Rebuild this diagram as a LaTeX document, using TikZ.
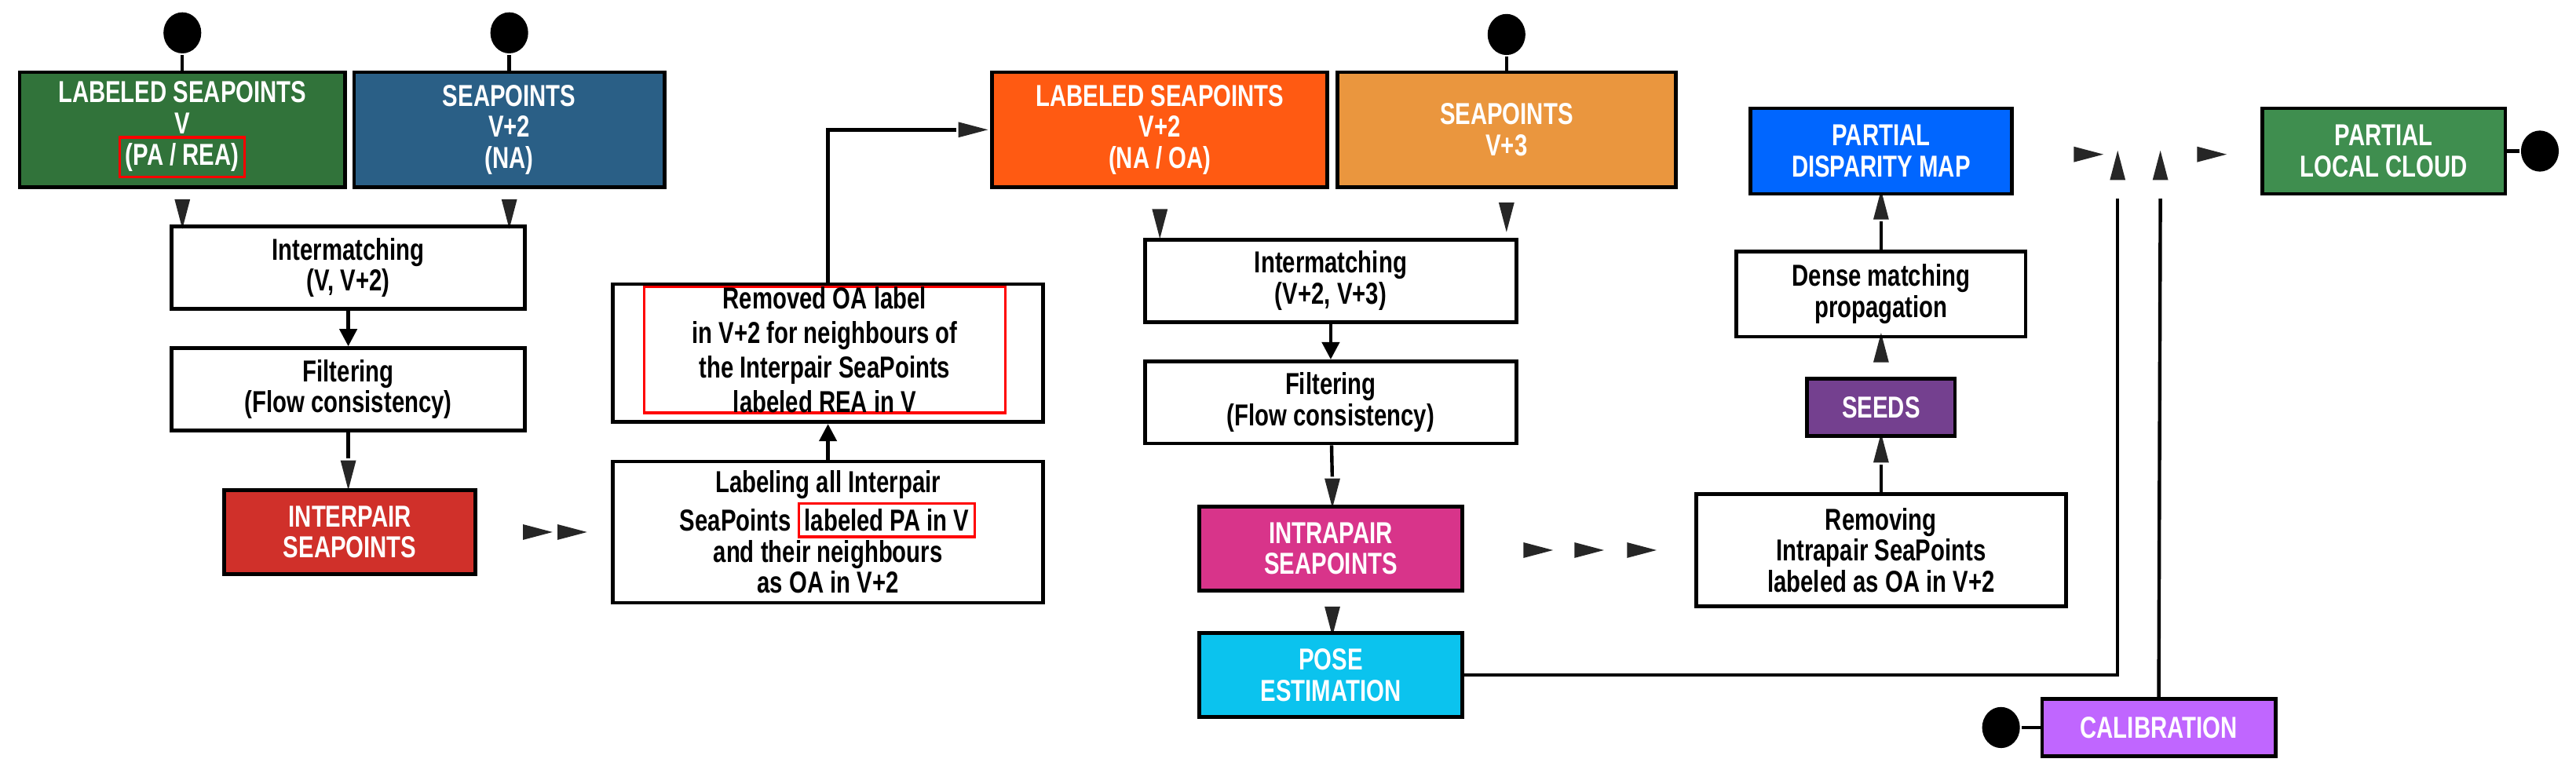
\documentclass[tikz,border=0pt]{standalone}
\usepackage{fontspec}
\setmainfont{Liberation Sans}[FakeStretch=0.76]
\usetikzlibrary{shapes.geometric,arrows.meta}
\tikzset{
  box/.style={rectangle,draw=black,line width=1.3pt,align=center,font=\bfseries\fontsize{10.5}{10.8}\selectfont,inner sep=1pt},
  cbox/.style={box,text=white,fill=#1},
  dot/.style={ellipse,fill=black,inner sep=0pt,minimum width=4.6mm,minimum height=5mm},
  tri/.style={isosceles triangle,isosceles triangle stretches,fill=black!85,inner sep=0pt,minimum width=1.9mm,minimum height=3.6mm,shape border rotate=#1},
  tri/.default=-90,
  hl/.style={rectangle,draw=red,line width=0.9pt,inner sep=0pt}
}
\definecolor{cgreen}{HTML}{31733A}
\definecolor{cblue}{HTML}{2A5F86}
\definecolor{cred}{HTML}{D0302A}
\definecolor{corange}{HTML}{FF5A12}
\definecolor{clorange}{HTML}{EA963E}
\definecolor{cmagenta}{HTML}{D8348A}
\definecolor{ccyan}{HTML}{0BC3EE}
\definecolor{cpurple}{HTML}{74408F}
\definecolor{cviolet}{HTML}{C066FF}
\definecolor{cdblue}{HTML}{0066FF}
\definecolor{clgreen}{HTML}{3F8E4F}
\newcommand{\redbox}[2]{{\setlength{\fboxsep}{1.5pt}\setlength{\fboxrule}{0.9pt}\fcolorbox{red}{#1}{#2}}}
\begin{document}
\begin{tikzpicture}[x=0.2mm,y=-0.2mm,line width=1.2pt]
  \useasboundingbox (0,0) rectangle (1568,473);
  % first pair
  \node[cbox=cgreen,minimum width=39.6mm,minimum height=14mm] (lsv) at (111,79) {LABELED SEAPOINTS\\V\\\redbox{cgreen}{(PA / REA)}};
  \node[cbox=cblue,minimum width=37.8mm,minimum height=14mm] (sv2) at (310,79) {SEAPOINTS\\V+2\\(NA)};
  \node[dot] (dlsv) at (111,20) {};
  \node[dot] (dsv2) at (310,20) {};
  \draw (dlsv) -- (lsv);
  \draw (dsv2) -- (sv2);
  \node[tri] (t1) at (111,125) {};
  \node[tri] (t2) at (310,125) {};
  \node[box,minimum width=43mm,minimum height=10mm] (inter) at (212,163) {Intermatching\\(V, V+2)};
  \node[box,minimum width=43mm,minimum height=10mm] (filt) at (212,237) {Filtering\\(Flow consistency)};
  \draw[-{Triangle[width=6pt,length=6pt]}] (inter) -- (filt);
  \node[tri] (t3) at (212,284) {};
  \draw (filt) -- (t3);
  \node[cbox=cred,minimum width=30.6mm,minimum height=10.2mm] (interpair) at (213,324) {INTERPAIR\\SEAPOINTS};
  \node[tri=0] (t4) at (322,324) {};
  \node[tri=0] (t5) at (343,324) {};
  \node[box,minimum width=52.4mm,minimum height=17.2mm] (labeling) at (504,324) {Labeling all Interpair\\SeaPoints \redbox{white}{labeled PA in V}\\and their neighbours\\as OA in V+2};
  \node[box,minimum width=52.4mm,minimum height=16.8mm] (removed) at (504,215) {};
  \node[hl,align=center,font=\bfseries\fontsize{10.5}{12}\selectfont,minimum width=44mm,minimum height=15mm] (remhl) at (502,213) {Removed OA label\\in V+2 for neighbours of\\the Interpair SeaPoints\\labeled REA in V};
  \draw[-{Triangle[width=6pt,length=6pt]}] (labeling) -- (removed);
  \node[tri=0] (t6) at (587,79) {};
  \draw (removed.north) |- (t6.west);
  % second pair
  \node[cbox=corange,minimum width=40.8mm,minimum height=14mm] (lsv2) at (706,79) {LABELED SEAPOINTS\\V+2\\(NA / OA)};
  \node[cbox=clorange,minimum width=41.2mm,minimum height=14mm] (sv3) at (917,79) {SEAPOINTS\\V+3};
  \node[dot] (dsv3) at (917,21) {};
  \draw (dsv3) -- (sv3);
  \node[tri] (t7) at (706,131) {};
  \node[tri] (t8) at (917,127) {};
  \node[box,minimum width=45.2mm,minimum height=10mm] (inter2) at (810,171) {Intermatching\\(V+2, V+3)};
  \node[box,minimum width=45.2mm,minimum height=10mm] (filt2) at (810,245) {Filtering\\(Flow consistency)};
  \draw[-{Triangle[width=6pt,length=6pt]}] (inter2) -- (filt2);
  \node[tri] (t9) at (811,295) {};
  \draw (filt2) -- (t9);
  \node[cbox=cmagenta,minimum width=32mm,minimum height=10.2mm] (intrapair) at (810,334) {INTRAPAIR\\SEAPOINTS};
  \node[tri] (t10) at (811,373) {};
  \node[cbox=ccyan,minimum width=32mm,minimum height=10.2mm] (pose) at (810,411) {POSE\\ESTIMATION};
  \node[tri=0] (t11) at (931,335) {};
  \node[tri=0] (t12) at (962,335) {};
  \node[tri=0] (t13) at (994,335) {};
  % dense branch
  \node[box,minimum width=45mm,minimum height=13.6mm] (removing) at (1145,335) {Removing\\Intrapair SeaPoints\\labeled as OA in V+2};
  \node[tri=90] (t14) at (1145,278) {};
  \draw (removing) -- (t14);
  \node[cbox=cpurple,minimum width=18mm,minimum height=7mm] (seeds) at (1145,248) {SEEDS};
  \node[tri=90] (t15) at (1145,217) {};
  \node[box,minimum width=35.2mm,minimum height=10.4mm] (dense) at (1145,179) {Dense matching\\propagation};
  \node[tri=90] (t16) at (1145,130) {};
  \draw (dense) -- (t16);
  \node[cbox=cdblue,minimum width=31.8mm,minimum height=10.4mm] (pdm) at (1145,92) {PARTIAL\\DISPARITY MAP};
  % fusion
  \node[tri=0] (t17) at (1266,94) {};
  \node[tri=90] (t18) at (1289,106) {};
  \node[tri=90] (t19) at (1315,106) {};
  \node[tri=0] (t20) at (1341,94) {};
  \node[cbox=clgreen,minimum width=29.6mm,minimum height=10.4mm] (plc) at (1451,92) {PARTIAL\\LOCAL CLOUD};
  \node[dot] (dplc) at (1546,92) {};
  \draw (plc) -- (dplc);
  \node[cbox=cviolet,minimum width=28.4mm,minimum height=7mm] (calib) at (1314,443) {CALIBRATION};
  \node[dot] (dcal) at (1218,443) {};
  \draw (dcal) -- (calib);
  \coordinate (c1) at (1289,121);
  \coordinate (c2) at (1315,121);
  \draw (pose.east) -| (c1);
  \draw (calib.north) -- (c2);
\end{tikzpicture}
\end{document}
